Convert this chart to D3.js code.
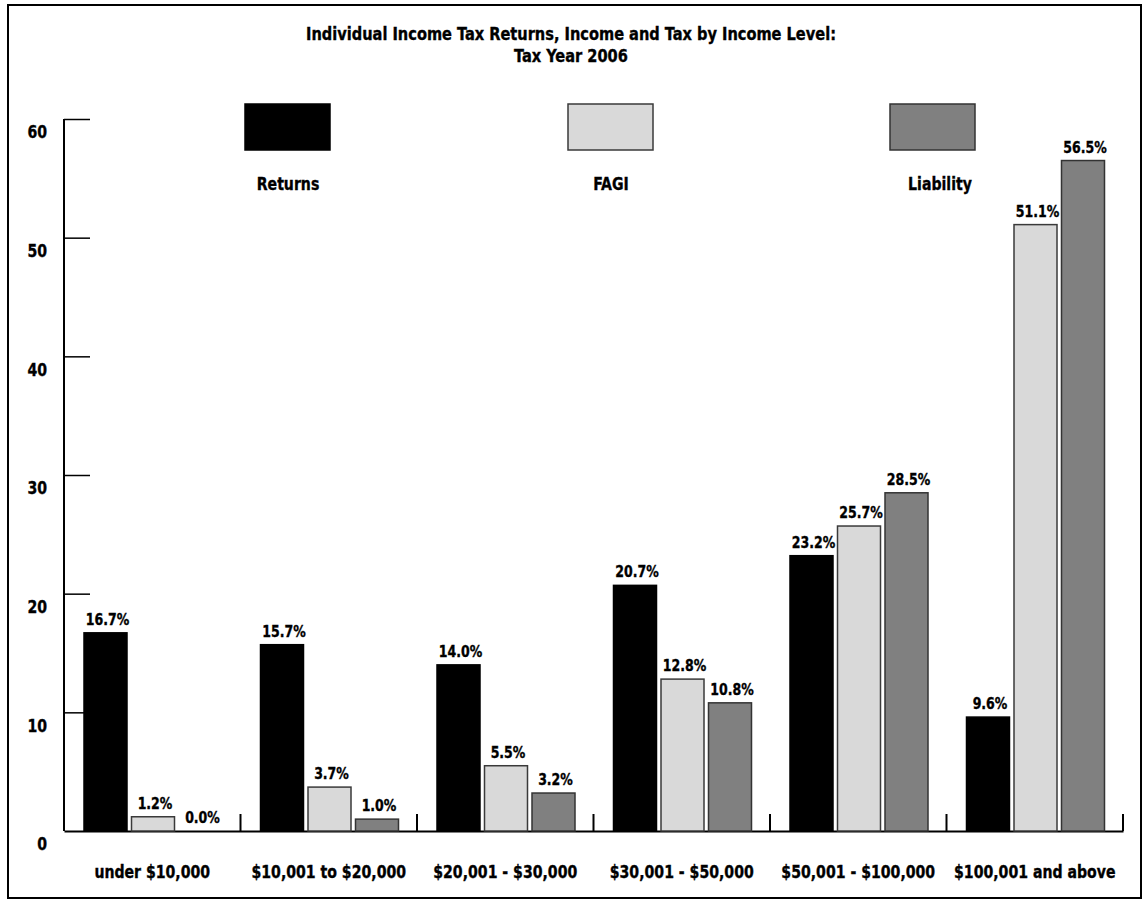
<!DOCTYPE html>
<html>
  <head>
    <title>Income Tax by Income Level 2006</title>
    <script src="https://d3js.org/d3.v7.min.js"></script>
    <style>
      body { margin: 0; background: #fff; }
      svg text {
        font-family: "Liberation Sans Narrow", "Arial Narrow", "DejaVu Sans Condensed", sans-serif;
        font-weight: bold;
        fill: #000;
        stroke: #000;
        stroke-width: 0.35px;
      }
      .title { font-size: 18px; text-anchor: middle; }
      .axis .domain { stroke: #000; stroke-width: 2px; }
      .axis .tick line { stroke: #000; stroke-width: 1.5px; }
      .axis .tick text { font-size: 18px; }
      .legend__label { font-size: 18px; text-anchor: middle; }
      .bar__label { font-size: 16px; text-anchor: middle; }
    </style>
  </head>
  <body>
    <svg width="1142" height="900"></svg>
    <script>
      const categories = ["under $10,000", "$10,001 to $20,000", "$20,001 - $30,000",
        "$30,001 - $50,000", "$50,001 - $100,000", "$100,001 and above"];
      const seriesNames = ["Returns", "FAGI", "Liability"];
      const returnsValues = [16.7, 15.7, 14.0, 20.7, 23.2, 9.6];
      const fagiValues = [1.2, 3.7, 5.5, 12.8, 25.7, 51.1];
      const liabilityValues = [0.0, 1.0, 3.2, 10.8, 28.5, 56.5];
      const yTicks = [0, 10, 20, 30, 40, 50, 60];

      const seriesValues = [returnsValues, fagiValues, liabilityValues];
      const colorScale = d3.scaleOrdinal()
        .domain(seriesNames)
        .range(["#000000", "#d9d9d9", "#808080"]);
      const strokeScale = d3.scaleOrdinal()
        .domain(seriesNames)
        .range(["#000000", "#3a3a3a", "#333333"]);

      const svg = d3.select("svg");

      // outer frame
      svg.append("rect")
        .attr("x", 8).attr("y", 5)
        .attr("width", 1133).attr("height", 893)
        .attr("fill", "none")
        .attr("stroke", "#000")
        .attr("stroke-width", 2);

      svg.append("text").attr("class", "title")
        .attr("x", 571).attr("y", 40)
        .text("Individual Income Tax Returns, Income and Tax by Income Level:");
      svg.append("text").attr("class", "title")
        .attr("x", 571).attr("y", 62)
        .text("Tax Year 2006");

      const plotLeft = 64, plotRight = 1123;
      const yScale = d3.scaleLinear().domain([0, 60]).range([831, 119]);
      const xGroup = d3.scaleBand().domain(categories).range([plotLeft, plotRight]);
      const xBar = d3.scaleBand().domain(seriesNames)
        .range([20, 158]).paddingInner(4.5 / 47.5);

      // y axis: ticks point inward, labels sit below each tick
      const yAxisG = svg.append("g")
        .attr("class", "axis")
        .attr("transform", `translate(${plotLeft},0)`)
        .call(d3.axisRight(yScale).tickValues(yTicks).tickSize(26).tickSizeOuter(0))
        .call(g => g.select(".domain").attr("d", `M0,${yScale(60)}V${yScale(0)}`));
      yAxisG.selectAll(".tick text")
        .attr("x", -17)
        .attr("dy", "1.05em")
        .attr("text-anchor", "end");
      yAxisG.selectAll(".tick").filter(d => d === 0).select("line").remove();

      // x axis
      const xAxisG = svg.append("g")
        .attr("class", "axis")
        .attr("transform", `translate(0,${yScale(0)})`)
        .call(d3.axisBottom(xGroup).tickSize(0).tickSizeOuter(0).tickPadding(34));
      xAxisG.selectAll(".tick text").attr("font-size", 17);

      svg.append("g")
        .selectAll("line")
        .data(categories)
        .join("line")
          .attr("x1", d => xGroup(d) + xGroup.bandwidth())
          .attr("x2", d => xGroup(d) + xGroup.bandwidth())
          .attr("y1", yScale(0) - 17)
          .attr("y2", yScale(0))
          .attr("stroke", "#000")
          .attr("stroke-width", 2);

      // bars
      const rows = categories.map((c, i) => ({
        category: c,
        values: seriesNames.map((s, j) => ({ series: s, value: seriesValues[j][i] }))
      }));

      const groupG = svg.append("g")
        .selectAll("g")
        .data(rows)
        .join("g")
          .attr("transform", d => `translate(${xGroup(d.category)},0)`);

      groupG.selectAll("rect")
        .data(d => d.values.filter(v => v.value > 0))
        .join("rect")
          .attr("x", d => xBar(d.series))
          .attr("y", d => yScale(d.value))
          .attr("width", xBar.bandwidth())
          .attr("height", d => yScale(0) - yScale(d.value))
          .attr("fill", d => colorScale(d.series))
          .attr("stroke", d => strokeScale(d.series))
          .attr("stroke-width", 1.5);

      groupG.selectAll("text")
        .data(d => d.values)
        .join("text")
          .attr("class", "bar__label")
          .attr("x", d => xBar(d.series) + xBar.bandwidth() / 2 + 2)
          .attr("y", d => yScale(d.value) - 8)
          .text(d => d.value.toFixed(1) + "%");

      // legend
      const legendX = [245, 568, 890];
      const legendG = svg.append("g")
        .selectAll("g")
        .data(seriesNames)
        .join("g")
          .attr("transform", (d, i) => `translate(${legendX[i]},104)`);
      legendG.append("rect")
        .attr("width", 85).attr("height", 46)
        .attr("fill", colorScale)
        .attr("stroke", strokeScale)
        .attr("stroke-width", 1.5);
      legendG.append("text")
        .attr("class", "legend__label")
        .attr("x", (d, i) => i === 2 ? 50 : 43)
        .attr("y", 86)
        .text(d => d);

      // the original uses a condensed face; squeeze glyphs to match
      svg.selectAll("text").each(function() {
        const squeeze = this.classList.contains("title") ? 0.9 : 0.87;
        const w = this.getComputedTextLength();
        this.setAttribute("textLength", w * squeeze);
        this.setAttribute("lengthAdjust", "spacingAndGlyphs");
      });
    </script>
  </body>
</html>
